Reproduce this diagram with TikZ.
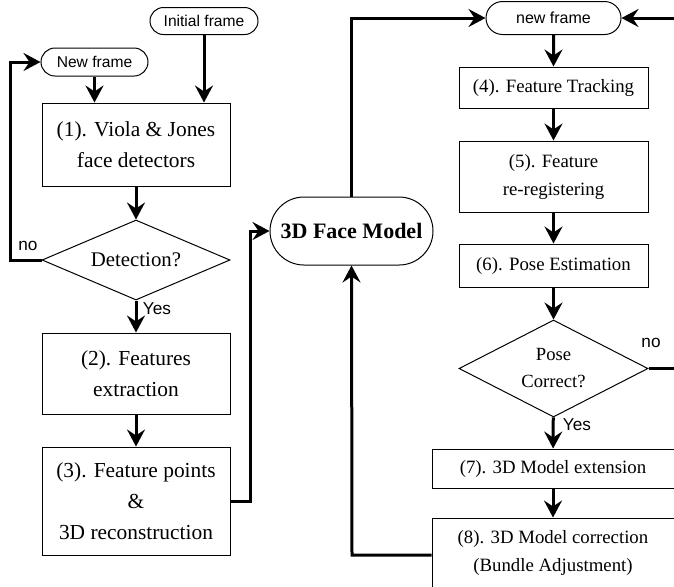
\documentclass[tikz,border=0pt]{standalone}
\usepackage{fontspec}
\setmainfont{Liberation Serif}
\setsansfont{Liberation Sans}
\usetikzlibrary{arrows.meta, shapes.geometric, shapes.misc}

\tikzset{
    leftbox/.style={draw, line width=0.5pt, align=center, inner sep=0pt, minimum width=94pt,
        font=\fontsize{10.7}{15.5}\selectfont},
    rightbox/.style={draw, line width=0.5pt, align=center, inner sep=0pt, minimum width=94.5pt,
        font=\fontsize{9.4}{14}\selectfont},
    framepill/.style={draw, rounded rectangle, line width=0.5pt, inner sep=0pt,
        font=\sffamily\fontsize{7.8}{9}\selectfont},
    testdiamond/.style={draw, diamond, line width=0.5pt, align=center, inner sep=0pt},
    flow/.style={line width=1.5pt, -{Stealth[length=8.5pt, width=9pt, inset=3pt]}},
    tag/.style={font=\sffamily\fontsize{8.6}{10}\selectfont}
}

\begin{document}
\begin{tikzpicture}[x=0.5pt, y=-0.5pt]
    \useasboundingbox (0,0) rectangle (674,586);

    % detection branch
    \node[framepill, minimum width=54pt, minimum height=13.5pt] (init) at (204,21) {Initial frame};
    \node[framepill, minimum width=53.5pt, minimum height=14pt] (newL) at (94.5,62) {New frame};
    \node[leftbox, minimum height=41.5pt] (viola) at (136,144.5) {(1). Viola \& Jones\\face detectors};
    \node[testdiamond, aspect=2.35, minimum width=94pt, minimum height=40pt,
        font=\fontsize{10.4}{12}\selectfont] (detect) at (136,260) {Detection?};
    \node[leftbox, minimum height=40.5pt] (extract) at (136,373.5) {(2). Features\\extraction};
    \node[leftbox, minimum height=54pt] (recon) at (136,501) {(3). Feature points\\\&\\3D reconstruction};

    % model
    \node[draw, rounded rectangle, line width=0.5pt, inner sep=0pt, minimum width=81.5pt, minimum height=34pt,
        font=\bfseries\fontsize{11}{13}\selectfont] (face) at (351.5,231) {3D Face Model};

    % tracking branch
    \node[framepill, minimum width=67.5pt, minimum height=16.5pt, font=\sffamily\fontsize{8}{9}\selectfont] (newR) at (553.5,18) {new frame};
    \node[rightbox, minimum height=20.5pt] (track) at (553.5,87.5) {(4). Feature Tracking};
    \node[rightbox, minimum height=35.5pt] (rereg) at (553.5,176.5) {(5). Feature\\re-registering};
    \node[rightbox, minimum height=21.5pt] (pose) at (553.5,265.5) {(6). Pose Estimation};
    \node[testdiamond, aspect=1.95, minimum width=94.5pt, minimum height=48.5pt,
        font=\fontsize{9.3}{13.5}\selectfont] (check) at (553.5,368.5) {Pose\\Correct?};
    \node[rightbox, minimum width=121pt, minimum height=19.5pt] (extend) at (553,468.5) {(7). 3D Model extension};
    \node[rightbox, minimum width=121pt, minimum height=35pt] (correct) at (553,553) {(8). 3D Model correction\\(Bundle Adjustment)};

    \coordinate (loopL) at (10,260);
    \coordinate (toFace) at (250,501);
    \coordinate (back) at (352,555);
    \coordinate (loopR) at (680,368.5);

    \draw[flow] (init.south) -- (init.south |- viola.north);
    \draw[flow] (newL.south) -- (newL.south |- viola.north);
    \draw[flow] (viola) -- (detect);
    \draw[flow] (detect.west) -- (loopL) |- (newL.west);
    \node[tag] (noL) at (28,246) {no};
    \draw[flow] (detect) -- (extract);
    \node[tag] (yesL) at (157,309) {Yes};
    \draw[flow] (extract) -- (recon);
    \draw[flow] (recon.east) -- (toFace) |- (face.west);

    \draw[flow] (face.north) |- (newR.west);
    \draw[flow] (correct.west |- back) -- (back) -- (face.south);

    \draw[flow] (newR) -- (track);
    \draw[flow] (track) -- (rereg);
    \draw[flow] (rereg) -- (pose);
    \draw[flow] (pose) -- (check);
    \draw[flow] (check.east) -- (loopR) |- (newR.east);
    \node[tag] (noR) at (651,343) {no};
    \draw[flow] (check) -- (extend);
    \node[tag] (yesR) at (577,425) {Yes};
    \draw[flow] (extend) -- (correct);
\end{tikzpicture}
\end{document}
